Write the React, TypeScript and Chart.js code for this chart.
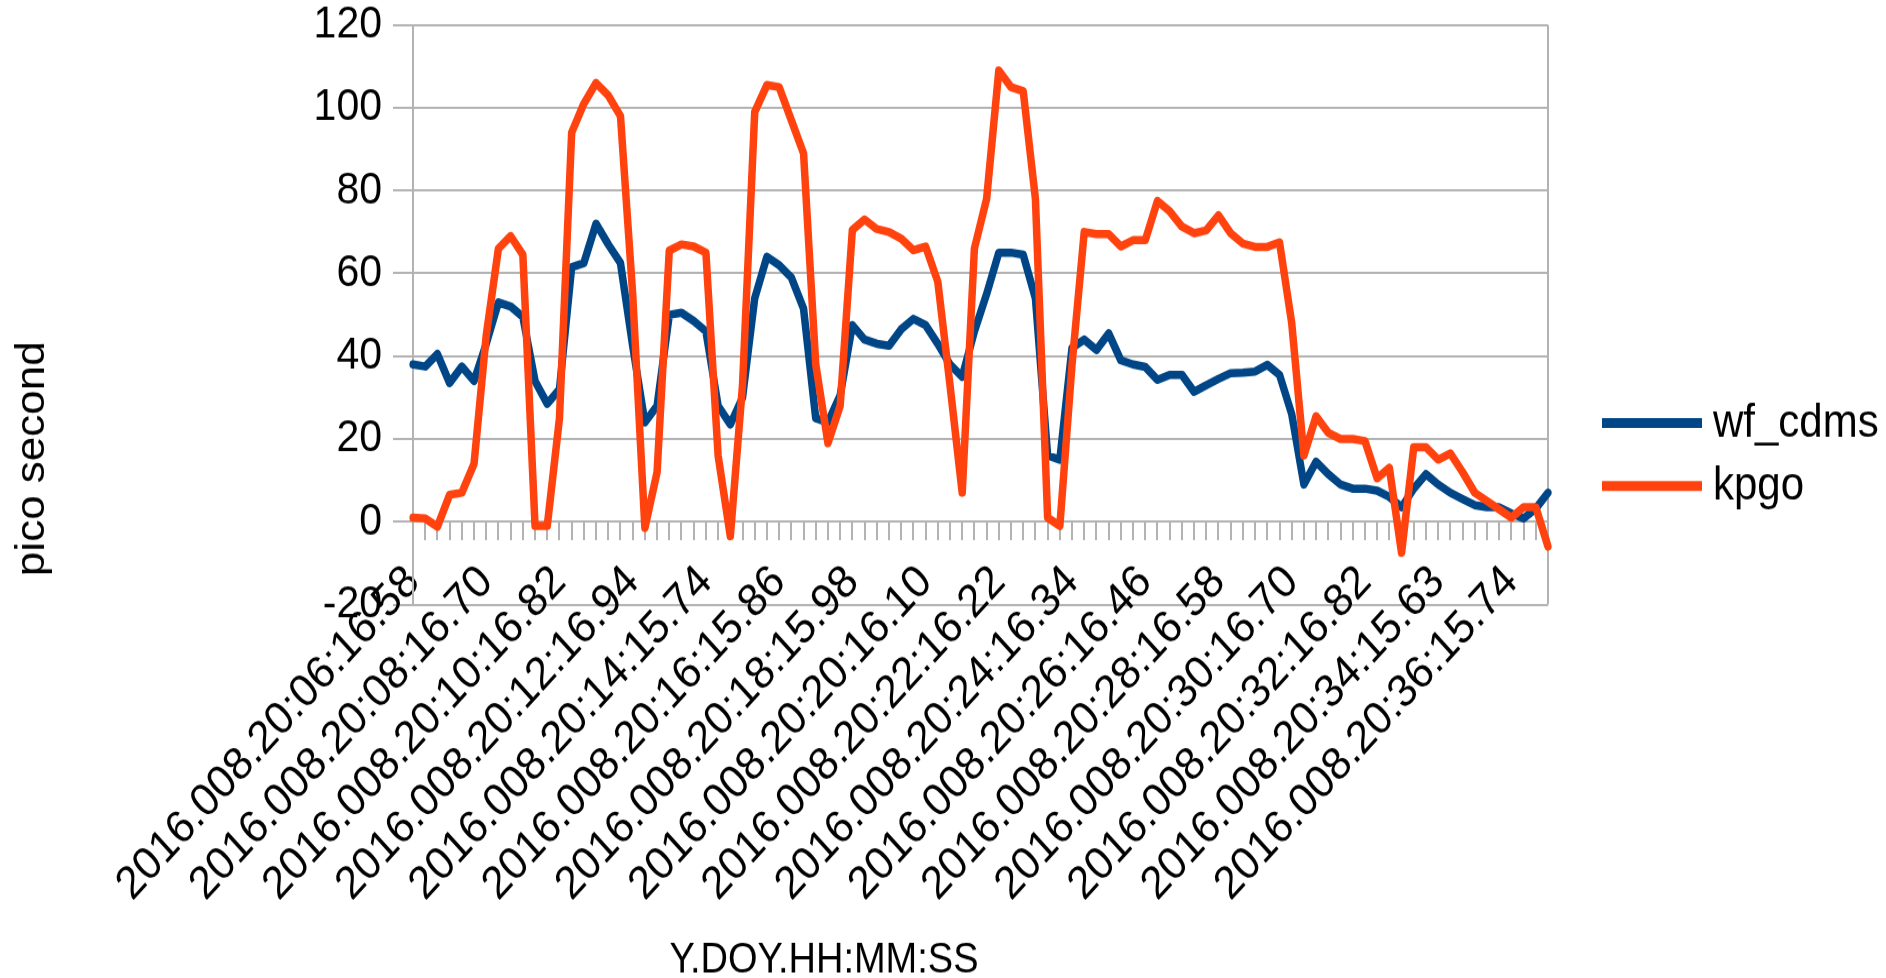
import React, { useEffect, useRef } from 'react';
import { Chart, registerables } from 'chart.js';

Chart.register(...registerables);

// ---------- data ----------
const tickLabels = [
  '2016.008.20:06:16.58', '2016.008.20:08:16.70', '2016.008.20:10:16.82', '2016.008.20:12:16.94',
  '2016.008.20:14:15.74', '2016.008.20:16:15.86', '2016.008.20:18:15.98', '2016.008.20:20:16.10',
  '2016.008.20:22:16.22', '2016.008.20:24:16.34', '2016.008.20:26:16.46', '2016.008.20:28:16.58',
  '2016.008.20:30:16.70', '2016.008.20:32:16.82', '2016.008.20:34:15.63', '2016.008.20:36:15.74',
];
const labelEvery = 6;

const wfCdms = [
  38, 37.5, 40.5, 33.5, 37.5, 34, 43, 53, 52, 49.5,
  34, 28.5, 32, 61.5, 62.5, 72, 67, 62.5, 42.5, 24,
  28, 50, 50.5, 48.5, 46, 28, 23.5, 30, 54, 64,
  62, 59, 51.5, 25, 24, 30.5, 47.5, 44, 43, 42.5,
  46.5, 49, 47.5, 43, 38, 35, 46, 55, 65, 65,
  64.5, 54, 16, 15, 42, 44, 41.5, 45.5, 39, 38,
  37.4, 34.3, 35.5, 35.5, 31.4, 33, 34.5, 35.9, 36, 36.3,
  37.9, 35.5, 26, 9, 14.5, 11.5, 9, 8, 8, 7.5,
  6, 3.5, 8, 11.5, 9, 7, 5.5, 4, 3.5, 3.5,
  2, 0.8, 3.2, 7,
];

const kpgo = [
  1, 0.8, -1.2, 6.5, 7, 14, 45, 66, 69, 64.5,
  -1, -1, 25, 94, 101, 106, 103, 98, 55, -1.5,
  12, 65.5, 67, 66.5, 65, 16, -3.5, 33, 99, 105.5,
  105, 97, 89, 38, 19, 28, 70.5, 73, 70.7, 70,
  68.4, 65.6, 66.5, 58, 33, 7, 66, 78, 109, 105,
  104, 78, 1, -1, 38, 70, 69.5, 69.5, 66.5, 68,
  68, 77.5, 75, 71.3, 69.7, 70.4, 74, 69.7, 67.2, 66.4,
  66.4, 67.5, 48, 16, 25.5, 21.5, 20, 20, 19.5, 10.5,
  13, -7.5, 18, 18, 15, 16.5, 12, 7, 5, 3,
  1, 3.5, 3.5, -6,
];

const seriesNames = ['wf_cdms', 'kpgo'];
const seriesColors = ['#004586', '#ff420e'];
const yMin = -20;
const yMax = 120;
const yStep = 20;
const xTitle = 'Y.DOY.HH:MM:SS';
const yTitle = 'pico second';

// category labels built from the tick labels (one shown every `labelEvery` points)
const categories = wfCdms.map((_, i) =>
  i % labelEvery === 0 && tickLabels[i / labelEvery] !== undefined ? tickLabels[i / labelEvery] : ''
);

// ---------- layout (logical canvas, stretched vertically by CSS) ----------
const W = 1886;
const H = 889;
const CSS_H = 978;
const AREA_LEFT = 413;
const AREA_RIGHT = 1548;
const AREA_TOP = 22.7;
const AREA_BOTTOM = 549.5;
const GRID = '#b3b3b3';
const FONT = '"Liberation Sans", Arial, sans-serif';

const decorPlugin = {
  id: 'decor',
  afterDraw(chart: any) {
    const ctx = chart.ctx as CanvasRenderingContext2D;
    ctx.save();
    ctx.fillStyle = '#000';
    ctx.font = `38px ${FONT}`;
    ctx.textAlign = 'center';
    ctx.textBaseline = 'alphabetic';
    ctx.fillText(xTitle, 824, 884);

    ctx.save();
    ctx.font = `40px ${FONT}`;
    ctx.translate(33, 417);
    ctx.rotate(-Math.PI / 2);
    ctx.textBaseline = 'middle';
    ctx.fillText(yTitle, 0, 0);
    ctx.restore();

    const legendYs = [384.5, 441.8];
    chart.data.datasets.forEach((ds: any, i: number) => {
      const y = legendYs[i];
      ctx.strokeStyle = ds.borderColor;
      ctx.lineWidth = 9;
      ctx.lineCap = 'butt';
      ctx.beginPath();
      ctx.moveTo(1602, y);
      ctx.lineTo(1702, y);
      ctx.stroke();
      ctx.fillStyle = '#000';
      ctx.font = `42px ${FONT}`;
      ctx.textAlign = 'left';
      ctx.textBaseline = 'alphabetic';
      ctx.fillText(ds.label, 1713, y + 12.5);
    });
    ctx.restore();
  },
};

export default function App() {
  const ref = useRef<HTMLCanvasElement | null>(null);

  useEffect(() => {
    const canvas = ref.current;
    if (!canvas) return;
    const lastIndex = categories.length - 1;
    const zeroPad = (s: any) => {
      s.paddingLeft = 0;
      s.paddingRight = 0;
      s.paddingTop = 0;
      s.paddingBottom = 0;
    };
    const chart = new Chart(canvas, {
      type: 'line',
      data: {
        labels: categories,
        datasets: [
          {
            label: seriesNames[0],
            data: wfCdms,
            borderColor: seriesColors[0],
            backgroundColor: seriesColors[0],
            borderWidth: 7.5,
            pointRadius: 0,
            tension: 0,
            order: 2,
            xAxisID: 'x',
            yAxisID: 'y',
          },
          {
            label: seriesNames[1],
            data: kpgo,
            borderColor: seriesColors[1],
            backgroundColor: seriesColors[1],
            borderWidth: 7.5,
            pointRadius: 0,
            tension: 0,
            order: 1,
            xAxisID: 'x',
            yAxisID: 'y',
          },
        ],
      },
      options: {
        responsive: false,
        animation: false,
        devicePixelRatio: 1,
        events: [],
        layout: { padding: { left: 0, right: W - AREA_RIGHT, top: AREA_TOP, bottom: H - AREA_BOTTOM } },
        elements: {
          line: { borderJoinStyle: 'round', borderCapStyle: 'round' },
          point: { radius: 0 },
        },
        plugins: {
          legend: { display: false },
          tooltip: { enabled: false },
          title: { display: false },
        },
        scales: {
          x: {
            type: 'category',
            position: { y: yMin },
            offset: false,
            grid: { display: false, drawTicks: false },
            border: { display: false },
            ticks: {
              autoSkip: false,
              minRotation: 45,
              maxRotation: 45,
              padding: -45,
              color: '#000',
              font: { family: FONT, size: 42 },
              callback: (_v: any, i: number) => categories[i],
            },
            afterFit: zeroPad,
          } as any,
          xZero: {
            type: 'category',
            position: { y: 0 },
            offset: false,
            grid: {
              display: true,
              drawOnChartArea: true,
              drawTicks: true,
              tickLength: 16,
              lineWidth: 2,
              tickWidth: 2,
              color: (c: any) => (c.index === lastIndex ? GRID : 'rgba(0,0,0,0)'),
              tickColor: GRID,
            },
            border: { display: true, color: GRID, width: 2 },
            ticks: { display: false, autoSkip: false },
            afterFit: zeroPad,
          } as any,
          y: {
            type: 'linear',
            position: 'left',
            min: yMin,
            max: yMax,
            grid: {
              color: GRID,
              lineWidth: 2,
              drawTicks: true,
              tickLength: 20,
              tickColor: GRID,
              tickWidth: 2,
            },
            border: { display: true, color: GRID, width: 2 },
            ticks: {
              stepSize: yStep,
              padding: 11,
              color: '#000',
              font: { family: FONT, size: 41 },
            },
            afterFit: (s: any) => {
              s.width = AREA_LEFT;
              s.paddingTop = 0;
              s.paddingBottom = 0;
            },
          } as any,
        },
      },
      plugins: [decorPlugin],
    } as any);
    return () => chart.destroy();
  }, []);

  return (
    <div style={{ position: 'fixed', left: 0, top: 0, width: W, height: CSS_H, background: '#fff' }}>
      <canvas
        ref={ref}
        width={W}
        height={H}
        style={{ width: `${W}px`, height: `${CSS_H}px`, display: 'block' }}
      />
    </div>
  );
}
